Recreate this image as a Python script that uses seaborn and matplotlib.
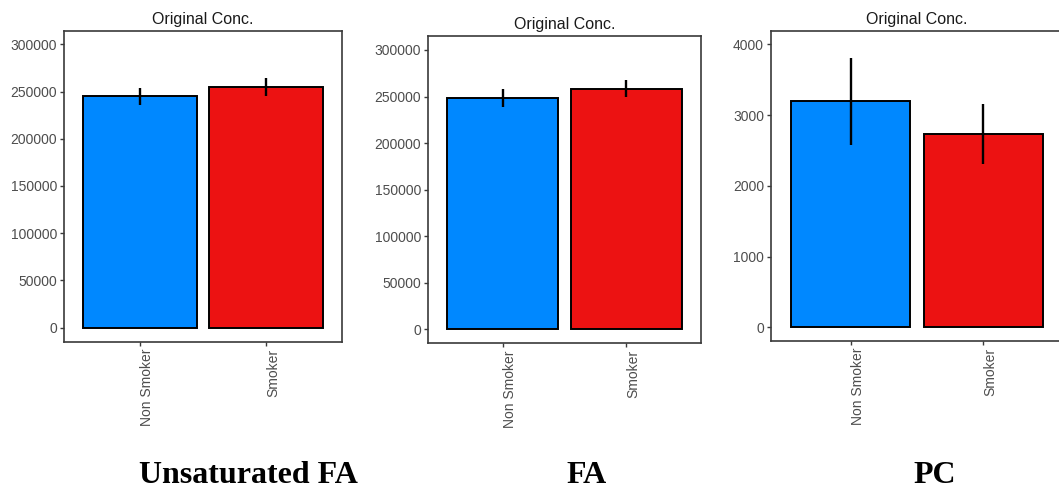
import matplotlib
matplotlib.use("Agg")
import matplotlib.pyplot as plt
import seaborn as sns
import pandas as pd

# Groups compared in every panel
groups = ["Non Smoker", "Smoker"]
bar_colors = ["#0088FF", "#EC1212"]

# Unsaturated FA: mean concentration and interval bounds
ufa_mean = [245000, 254500]
ufa_low = [235800, 245400]
ufa_high = [254200, 264100]

# FA
fa_mean = [248000, 258000]
fa_low = [239300, 249600]
fa_high = [257900, 267500]

# PC
pc_mean = [3200, 2730]
pc_low = [2570, 2310]
pc_high = [3805, 3153]

panel_names = ["Unsaturated FA", "FA", "PC"]
panel_title = "Original Conc."

sns.set_theme(style="white")
plt.rcParams["font.family"] = ["Liberation Sans", "DejaVu Sans"]

W, H = 1059, 492
fig = plt.figure(figsize=(W / 100, H / 100), dpi=100)


def frac_rect(left, top, right, bottom):
    """Pixel box -> figure fraction rectangle."""
    return [left / W, 1 - bottom / H, (right - left) / W, (bottom - top) / H]


panels = [
    dict(rect=frac_rect(64, 30.7, 342, 341.7), mean=ufa_mean, low=ufa_low, high=ufa_high,
         ylim=(-14830, 314400), yticks=[0, 50000, 100000, 150000, 200000, 250000, 300000],
         label_x=248),
    dict(rect=frac_rect(428.3, 36, 700.7, 343.3), mean=fa_mean, low=fa_low, high=fa_high,
         ylim=(-14925, 315000), yticks=[0, 50000, 100000, 150000, 200000, 250000, 300000],
         label_x=587),
    dict(rect=frac_rect(771, 31, 1063, 341), mean=pc_mean, low=pc_low, high=pc_high,
         ylim=(-191, 4187), yticks=[0, 1000, 2000, 3000, 4000],
         label_x=935),
]

text_grey = "#4D4D4D"
frame_grey = "#3a3a3a"

for p, name in zip(panels, panel_names):
    ax = fig.add_axes(p["rect"])
    df = pd.DataFrame({"group": groups, "value": p["mean"]})
    sns.barplot(data=df, x="group", y="value", hue="group", palette=bar_colors,
                order=groups, hue_order=groups, width=0.9, saturation=1,
                edgecolor="black", linewidth=1.4, errorbar=None, legend=False, ax=ax)
    xpos = ax.get_xticks()
    ax.vlines(xpos, p["low"], p["high"], colors="black", linewidth=1.7, zorder=4)

    ax.set_xlim(-0.6, 1.6)
    ax.set_ylim(*p["ylim"])
    ax.set_yticks(p["yticks"])
    ax.set_yticklabels([str(v) for v in p["yticks"]])
    ax.set_xlabel("")
    ax.set_ylabel("")
    ax.set_title(panel_title, fontsize=11.5, color="#1a1a1a", pad=5)

    for lbl in ax.get_xticklabels():
        lbl.set_rotation(90)
        lbl.set_va("top")
        lbl.set_ha("left")
    ax.tick_params(axis="both", which="both", length=3, width=1.0, color=frame_grey,
                   labelsize=10, labelcolor=text_grey, pad=2, direction="out",
                   bottom=True, left=True)
    for side in ["top", "right", "bottom", "left"]:
        ax.spines[side].set_visible(True)
        ax.spines[side].set_color(frame_grey)
        ax.spines[side].set_linewidth(1.2)
    ax.grid(False)
    ax.set_facecolor("white")

    fig.text(p["label_x"] / W, 1 - 483 / H, name, ha="center", va="baseline",
             fontfamily="Liberation Serif", fontweight="bold", fontsize=23, color="black")

fig.savefig("out.png", dpi=100, facecolor="white")
